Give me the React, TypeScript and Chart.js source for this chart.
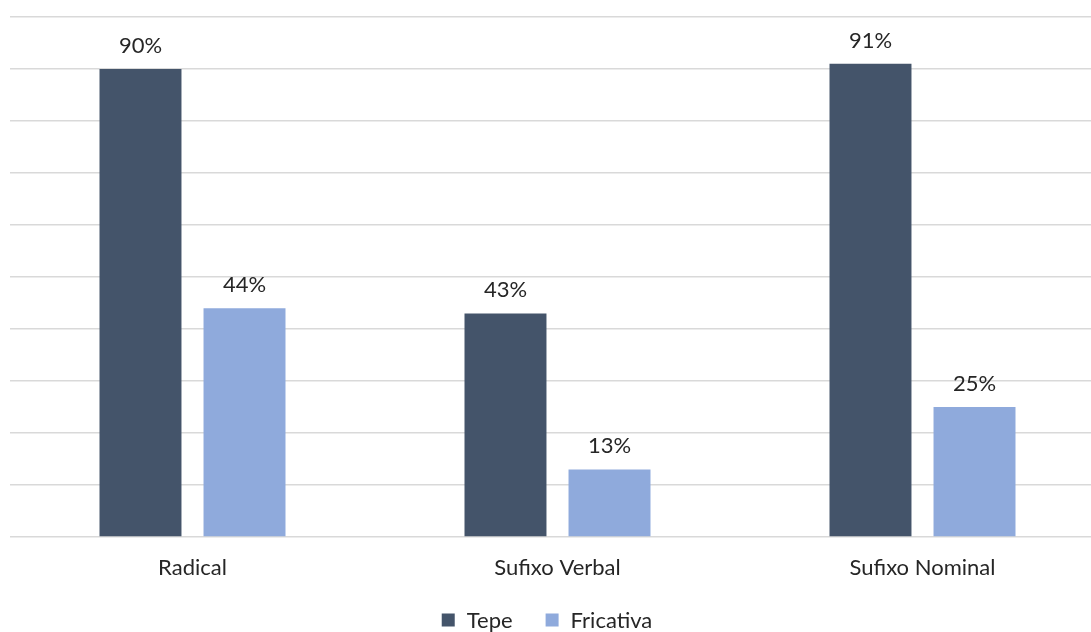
import React, { useEffect, useRef } from "react";
import { Chart, registerables } from "chart.js";

Chart.register(...registerables);

const categories = ["Radical", "Sufixo Verbal", "Sufixo Nominal"];
const tepeValues = [90, 43, 91];
const fricativaValues = [44, 13, 25];
const seriesNames = ["Tepe", "Fricativa"];
const seriesColors = ["#44546a", "#8faadc"];

const FONT = "Lato, 'Open Sans', sans-serif";
const FSIZE = 22;
const TEXT = "#262626";

const labelPlugin = {
  id: "valueLabels",
  afterDatasetsDraw(chart: any) {
    const ctx = chart.ctx;
    ctx.save();
    ctx.font = `${FSIZE}px ${FONT}`;
    ctx.fillStyle = TEXT;
    ctx.textAlign = "center";
    ctx.textBaseline = "bottom";
    chart.data.datasets.forEach((ds: any, i: number) => {
      const meta = chart.getDatasetMeta(i);
      meta.data.forEach((el: any, j: number) => {
        ctx.fillText(`${ds.data[j]}%`, el.x, el.y - 12);
      });
    });
    ctx.restore();
  },
};

const legendPlugin = {
  id: "customLegend",
  afterDraw(chart: any) {
    const ctx = chart.ctx;
    ctx.save();
    ctx.font = `${FSIZE}px ${FONT}`;
    ctx.textBaseline = "middle";
    ctx.textAlign = "left";
    const box = 13;
    const gapBoxText = 12;
    const gapItems = 33;
    const items = chart.data.datasets.map((ds: any) => ({
      label: ds.label,
      color: ds.backgroundColor,
      w: box + gapBoxText + ctx.measureText(ds.label).width,
    }));
    const total = items.reduce((a: number, it: any) => a + it.w, 0) + gapItems * (items.length - 1);
    let x = 547 - total / 2;
    const cy = 620;
    items.forEach((it: any) => {
      ctx.fillStyle = it.color;
      ctx.fillRect(x, cy - box / 2, box, box);
      ctx.fillStyle = TEXT;
      ctx.fillText(it.label, x + box + gapBoxText, cy + 1);
      x += it.w + gapItems;
    });
    ctx.restore();
  },
};

export default function App() {
  const ref = useRef<HTMLCanvasElement>(null);
  useEffect(() => {
    document.body.style.margin = "0";
    const chart = new Chart(ref.current!, {
      type: "bar",
      data: {
        labels: categories,
        datasets: [
          {
            label: seriesNames[0],
            data: tepeValues,
            backgroundColor: seriesColors[0],
            categoryPercentage: 0.57,
            barPercentage: 0.788,
          },
          {
            label: seriesNames[1],
            data: fricativaValues,
            backgroundColor: seriesColors[1],
            categoryPercentage: 0.57,
            barPercentage: 0.788,
          },
        ],
      },
      options: {
        responsive: false,
        animation: false,
        layout: { padding: { left: 10, right: 5, top: 17, bottom: 0 } },
        scales: {
          x: {
            grid: { display: false, drawTicks: false },
            border: { display: false },
            ticks: { padding: 18, color: TEXT, font: { family: FONT, size: FSIZE } },
            afterFit: (s: any) => {
              s.height = 95;
            },
          },
          y: {
            min: 0,
            max: 100,
            ticks: { display: false, stepSize: 10 },
            grid: { color: "#d9d9d9", lineWidth: 1.5, drawTicks: false },
            border: { display: false },
            afterFit: (s: any) => {
              s.width = 0;
            },
          },
        },
        plugins: {
          legend: { display: false },
          tooltip: { enabled: false },
        },
      },
      plugins: [labelPlugin, legendPlugin],
    });
    return () => chart.destroy();
  }, []);
  return (
    <div style={{ width: 1091, height: 632, overflow: "hidden", position: "relative" }}>
      <canvas ref={ref} width={1110} height={632} style={{ width: 1110, height: 632, display: "block" }} />
    </div>
  );
}
